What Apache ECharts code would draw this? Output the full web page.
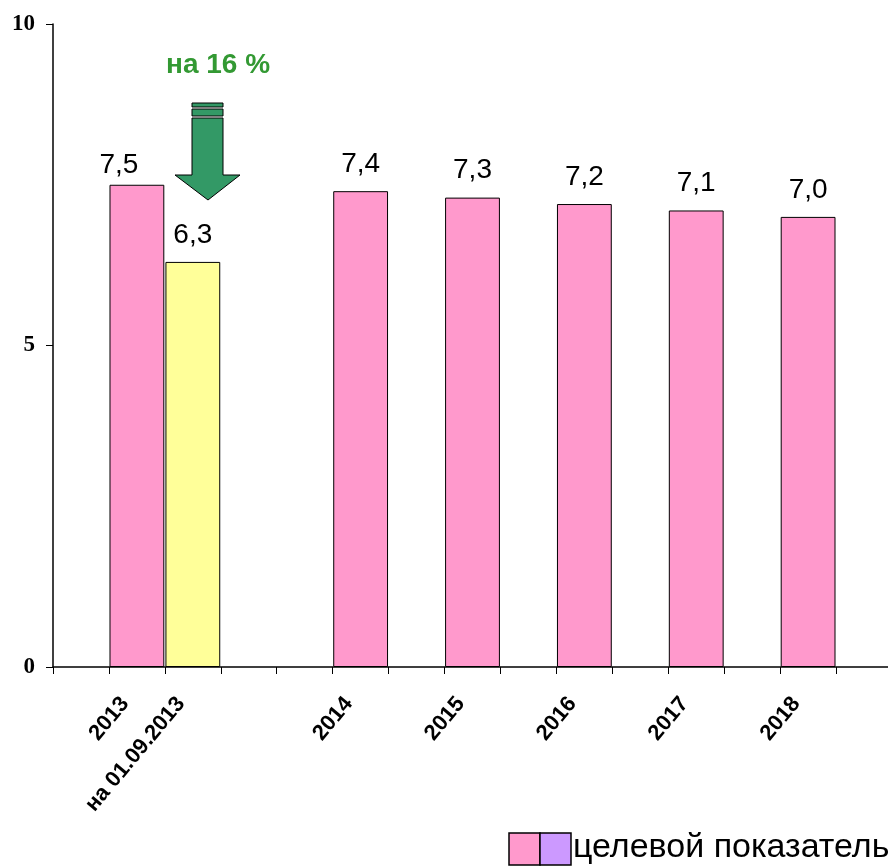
<!DOCTYPE html>
<html>
<head>
<meta charset="utf-8">
<script src="https://cdn.jsdelivr.net/npm/echarts@6/dist/echarts.min.js"></script>
<style>
html, body { margin: 0; padding: 0; overflow: hidden; background: #fff; }
#main { width: 900px; height: 868px; }
</style>
</head>
<body>
<div id="main"></div>
<script>
// slots on the category axis (blank ones keep the gaps of the original)
var categories = ['', '2013', 'на 01.09.2013', '', '', '2014', '', '2015', '', '2016', '', '2017', '', '2018', '']
var targetValues = [null, 7.5, null, null, null, 7.4, null, 7.3, null, 7.2, null, 7.1, null, 7.0, null]
var actualValues = [null, null, 6.3, null, null, null, null, null, null, null, null, null, null, null, null]
var yTicks = [0, 5, 10]

var chart = echarts.init(document.getElementById('main'))

function fmt (p) {
  return p.value == null ? '' : p.value.toFixed(1).replace('.', ',')
}

var barLabel = {
  show: true,
  position: 'top',
  distance: 13,
  formatter: fmt,
  fontFamily: 'Arial, "Liberation Sans"',
  fontSize: 28,
  color: '#000'
}

// the 2013 label sits left of its bar, clear of the arrow
var targetData = targetValues.map(function (v, i) {
  if (i === 1) return { value: v, label: { offset: [-18, 8] } }
  return v
})

chart.setOption({
  animation: false,
  grid: { left: 53, right: 8, top: 24, bottom: 201 },
  xAxis: {
    type: 'category',
    data: categories,
    axisLine: { lineStyle: { color: '#000', width: 1.5 } },
    axisTick: { show: true, interval: 0, length: 7, lineStyle: { color: '#000' } },
    axisLabel: {
      interval: 0,
      rotate: 50,
      margin: 43,
      verticalAlign: 'bottom',
      lineHeight: 31,
      fontFamily: 'Arial, "Liberation Sans"',
      fontWeight: 'bold',
      fontSize: 22,
      color: '#000'
    }
  },
  yAxis: {
    type: 'value',
    min: yTicks[0],
    max: yTicks[yTicks.length - 1],
    interval: 5,
    splitLine: { show: false },
    axisLine: { show: true, lineStyle: { color: '#000', width: 1.5 } },
    axisTick: { show: true, length: 7, lineStyle: { color: '#000' } },
    axisLabel: {
      margin: 18,
      fontFamily: '"Liberation Serif", "Times New Roman", serif',
      fontWeight: 'bold',
      fontSize: 23,
      color: '#000'
    }
  },
  series: [
    {
      name: 'целевой показатель',
      type: 'bar',
      data: targetData,
      barCategoryGap: '2%',
      barGap: '-100%',
      itemStyle: { color: '#FF99CC', borderColor: '#000', borderWidth: 1 },
      label: barLabel
    },
    {
      name: 'на 01.09.2013',
      type: 'bar',
      data: actualValues,
      barCategoryGap: '2%',
      barGap: '-100%',
      itemStyle: { color: '#FFFF99', borderColor: '#000', borderWidth: 1 },
      label: barLabel
    }
  ],
  graphic: [
    {
      type: 'text',
      left: 166,
      top: 51,
      style: {
        text: 'на 16 %',
        fill: '#339933',
        font: 'bold 28px Arial, "Liberation Sans"'
      }
    },
    {
      type: 'group',
      children: [
        { type: 'rect', shape: { x: 192, y: 103, width: 31, height: 4 }, style: { fill: '#339966', stroke: '#000', lineWidth: 1 } },
        { type: 'rect', shape: { x: 192, y: 109, width: 31, height: 7 }, style: { fill: '#339966', stroke: '#000', lineWidth: 1 } },
        {
          type: 'polygon',
          shape: { points: [[192, 118], [223, 118], [223, 175], [240, 175], [208, 200], [175, 175], [192, 175]] },
          style: { fill: '#339966', stroke: '#000', lineWidth: 1 }
        }
      ]
    },
    { type: 'rect', shape: { x: 509, y: 833, width: 31, height: 32 }, style: { fill: '#FF99CC', stroke: '#000', lineWidth: 1.5 } },
    { type: 'rect', shape: { x: 540, y: 833, width: 31, height: 32 }, style: { fill: '#CC99FF', stroke: '#000', lineWidth: 1.5 } },
    {
      type: 'text',
      x: 573,
      y: 865,
      style: {
        text: 'целевой показатель',
        fill: '#000',
        font: '34px Arial, "Liberation Sans"',
        textVerticalAlign: 'bottom'
      }
    }
  ]
})
</script>
</body>
</html>
